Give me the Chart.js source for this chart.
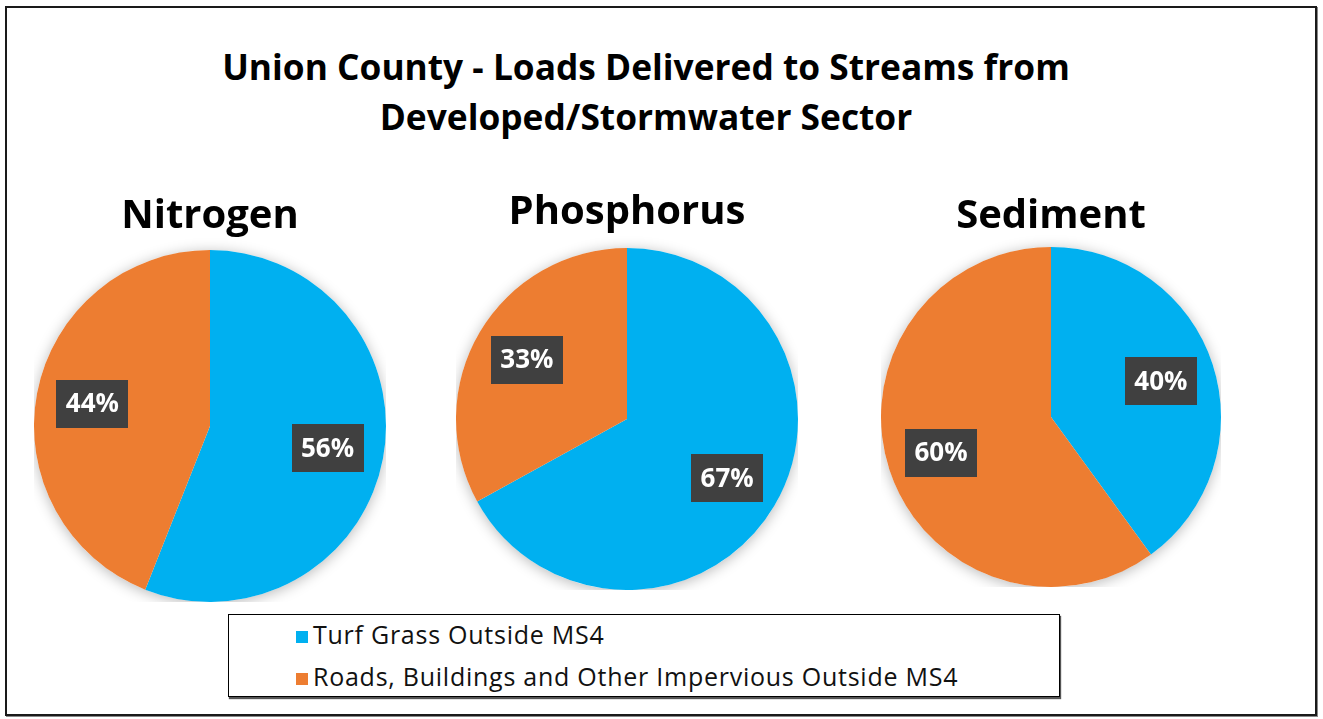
<!DOCTYPE html>
<html>
<head>
<meta charset="utf-8">
<script src="https://cdn.jsdelivr.net/npm/chart.js@4/dist/chart.umd.min.js"></script>
<style>
  html, body { margin: 0; padding: 0; background: #fff; }
  body { width: 1323px; height: 719px; position: relative; overflow: hidden; font-family: "Open Sans", sans-serif; }
  #frame { position: absolute; left: 5px; top: 6px; width: 1308px; height: 706px; border: 2px solid #1a1a1a; box-shadow: 1px 1px 0 #888; }
  #title { position: absolute; left: 0; width: 1292px; top: 41px; text-align: center; font-weight: 700; font-size: 35.3px; line-height: 50px; color: #000; }
  .pie { position: absolute; }
  #legend { position: absolute; left: 228px; top: 614px; width: 830px; height: 81px; border: 1px solid #000; box-shadow: 1px 2px 1px #555; background: #fff; }
  .item { position: absolute; left: 67px; font-size: 25px; letter-spacing: 0.75px; color: #111; white-space: nowrap; line-height: 28px; }
  .sw { display: inline-block; width: 12px; height: 12px; margin-right: 5px; vertical-align: 1px; }
</style>
</head>
<body>
<div id="frame"></div>
<div id="title">Union County - Loads Delivered to Streams from<br>Developed/Stormwater Sector</div>
<div class="pie" id="p0" style="left:34px;top:193px;width:352px;height:409px"><canvas id="c0"></canvas></div>
<div class="pie" id="p1" style="left:456px;top:189px;width:342px;height:401px"><canvas id="c1"></canvas></div>
<div class="pie" id="p2" style="left:881px;top:193px;width:340px;height:394px"><canvas id="c2"></canvas></div>
<div id="legend"></div>
<script>
const categories = ["Turf Grass Outside MS4", "Roads, Buildings and Other Impervious Outside MS4"];
const pieTitles = ["Nitrogen", "Phosphorus", "Sediment"];
const nitrogen = [56, 44];
const phosphorus = [67, 33];
const sediment = [40, 60];
const colors = ["#00B0F0", "#ED7D31"];
const series = [nitrogen, phosphorus, sediment];
const titlePadBottom = [9, 11, 6];

const legend = document.getElementById('legend');
categories.forEach((c, i) => {
  const d = document.createElement('div');
  d.className = 'item';
  d.style.top = (i === 0 ? 5 : 47) + 'px';
  d.innerHTML = '<span class="sw" style="background:' + colors[i] + '"></span>' + c;
  legend.appendChild(d);
});

const shadowPlugin = {
  id: 'pieShadow',
  beforeDatasetsDraw(chart) {
    const arc = chart.getDatasetMeta(0).data[0];
    if (!arc) return;
    const ctx = chart.ctx;
    ctx.save();
    ctx.shadowColor = 'rgba(0,0,0,0.28)';
    ctx.shadowBlur = 14;
    ctx.shadowOffsetX = 0;
    ctx.shadowOffsetY = 2;
    ctx.fillStyle = '#ffffff';
    ctx.beginPath();
    ctx.arc(arc.x, arc.y, arc.outerRadius, 0, Math.PI * 2);
    ctx.fill();
    ctx.restore();
  }
};

const labelPlugin = {
  id: 'boxLabels',
  afterDatasetsDraw(chart) {
    const ctx = chart.ctx;
    const ds = chart.data.datasets[0];
    const total = ds.data.reduce((a, b) => a + b, 0);
    chart.getDatasetMeta(0).data.forEach((arc, i) => {
      const mid = (arc.startAngle + arc.endAngle) / 2;
      const r = arc.outerRadius * 0.68;
      const x = arc.x + Math.cos(mid) * r;
      const y = arc.y + Math.sin(mid) * r;
      const txt = Math.round(ds.data[i] / total * 100) + '%';
      ctx.save();
      ctx.fillStyle = '#404040';
      ctx.fillRect(Math.round(x - 36), Math.round(y - 24), 72, 48);
      ctx.fillStyle = '#ffffff';
      ctx.font = '700 26px "Open Sans"';
      ctx.textAlign = 'center';
      ctx.textBaseline = 'middle';
      ctx.fillText(txt, x, y + 1);
      ctx.restore();
    });
  }
};

series.forEach((vals, k) => {
  new Chart(document.getElementById('c' + k), {
    type: 'pie',
    data: {
      labels: categories,
      datasets: [{ data: vals, backgroundColor: colors, borderWidth: 0, hoverOffset: 0 }]
    },
    options: {
      responsive: true,
      maintainAspectRatio: false,
      animation: false,
      layout: { padding: 0 },
      plugins: {
        legend: { display: false },
        tooltip: { enabled: false },
        title: {
          display: true,
          text: pieTitles[k],
          color: '#000',
          font: { family: 'Open Sans', size: 40, weight: '700', lineHeight: 1.2 },
          padding: { top: 0, bottom: titlePadBottom[k] }
        }
      }
    },
    plugins: [shadowPlugin, labelPlugin]
  });
});
</script>
</body>
</html>
